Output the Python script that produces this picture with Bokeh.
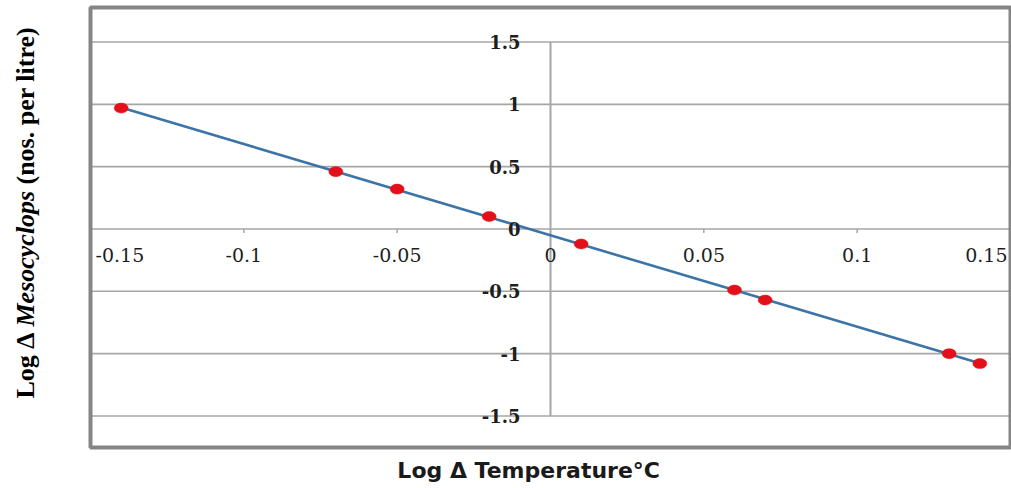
import numpy as np
from bokeh.plotting import figure
from bokeh.models import Label, ColumnDataSource, Range1d
from bokeh.embed import file_html
from bokeh.resources import INLINE
from bokeh.core.properties import value

# ---- data ----
temp = [-0.14, -0.07, -0.05, -0.02, 0.01, 0.06, 0.07, 0.13, 0.14]
meso = [0.97, 0.46, 0.32, 0.10, -0.12, -0.49, -0.57, -1.00, -1.08]
x_ticks = [-0.15, -0.1, -0.05, 0, 0.05, 0.1, 0.15]
x_tick_labels = ["-0.15", "-0.1", "-0.05", "0", "0.05", "0.1", "0.15"]
y_ticks = [-1.5, -1, -0.5, 0, 0.5, 1, 1.5]
y_tick_labels = ["-1.5", "-1", "-0.5", "0", "0.5", "1", "1.5"]

# ---- layout: the plotting frame covers the whole canvas; the chart box is drawn ----
W, H = 1011, 488
BOX_L, BOX_R, BOX_T, BOX_B = 90, 1010, 7, 447      # chart box in pixels
X0, X1 = -0.15, 0.15                                # box data range
Y0, Y1 = -1.753, 1.777
sx = (X1 - X0) / (BOX_R - BOX_L)
sy = (Y1 - Y0) / (BOX_B - BOX_T)


def xd(px):
    return X0 + (px - BOX_L) * sx


def yd(py):
    return Y1 - (py - BOX_T) * sy


p = figure(width=W, height=H, x_range=Range1d(xd(0), xd(W)), y_range=Range1d(yd(H), yd(0)),
           output_backend="svg", toolbar_location=None,
           min_border_left=0, min_border_right=0, min_border_top=0, min_border_bottom=0)
p.xaxis.visible = False
p.yaxis.visible = False
p.xgrid.visible = False
p.ygrid.visible = False
p.outline_line_color = None
p.background_fill_color = "white"
p.border_fill_color = "white"

GRAY = "#a6a6a6"
# horizontal gridlines
p.segment(x0=[X0] * len(y_ticks), y0=y_ticks, x1=[X1] * len(y_ticks), y1=y_ticks,
          line_color=GRAY, line_width=1.6)
# chart box
p.quad(left=[X0], right=[X1], bottom=[Y0], top=[Y1], fill_color=None,
       line_color="#858585", line_width=4)
# vertical axis through x = 0
p.segment(x0=[0], y0=[y_ticks[0]], x1=[0], y1=[y_ticks[-1]], line_color=GRAY, line_width=2)
# x tick marks
inner = [t for t in x_ticks if t not in (x_ticks[0], x_ticks[-1], 0)]
p.segment(x0=inner, y0=[0] * len(inner), x1=inner, y1=[-4 * sy] * len(inner),
          line_color=GRAY, line_width=1.5)

# trend line
coef = np.polyfit(temp, meso, 1)
lx = [min(temp), max(temp)]
ly = list(np.polyval(coef, lx))
p.line(lx, ly, line_color="#3d74a8", line_width=2.6)

# markers
p.ellipse(x=temp, y=meso, width=14, height=10, width_units="screen", height_units="screen",
          fill_color="#e3101a", line_color="#e3101a", line_width=0.5)

# tick labels
n = len(x_ticks)
align = ["left"] + ["center"] * (n - 2) + ["right"]
xoff = [5] + [0] * (n - 2) + [-3]
xsrc = ColumnDataSource(dict(x=x_ticks, y=[0] * n, text=x_tick_labels, align=align, xoff=xoff))
p.text(x="x", y="y", text="text", source=xsrc, text_align="align", x_offset="xoff",
       y_offset=26, text_baseline="middle", text_font=value("DejaVu Serif"),
       text_font_size="19px", text_color="#1e1e1e")

ysrc = ColumnDataSource(dict(x=[0] * len(y_ticks), y=y_ticks, text=y_tick_labels))
p.text(x="x", y="y", text="text", source=ysrc, text_align="right", x_offset=-30,
       text_baseline="middle", text_font=value("DejaVu Serif"),
       text_font_size="18px", text_color="#1e1e1e", text_font_style="bold")

# y axis title (rotated, mixed styles)
for txt, start, style in [("Log Δ", 398, "bold"), ("Mesocyclops", 326, "bold italic"),
                          ("(nos. per litre)", 184, "bold")]:
    p.add_layout(Label(x=xd(25), y=yd(start), text=txt, angle=np.pi / 2,
                       text_align="left", text_baseline="alphabetic",
                       text_font="Liberation Serif", text_font_size="26px",
                       text_font_style=style, text_color="black"))

# x axis title
p.add_layout(Label(x=xd(532), y=yd(470), text="Log  Δ Temperature°C",
                   text_align="center", text_baseline="middle",
                   text_font="DejaVu Sans", text_font_size="22px",
                   text_font_style="bold", text_color="#1a1a1a"))

open("out.html", "w").write(file_html(p, INLINE))
